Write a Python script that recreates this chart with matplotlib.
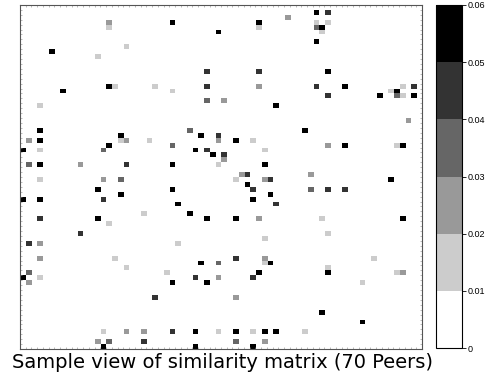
import numpy as np
import matplotlib
matplotlib.use("Agg")
import matplotlib.pyplot as plt
from matplotlib.colors import ListedColormap, BoundaryNorm

# ---- data: (column, row, similarity value) of non-zero cells in the 70x70 matrix ----
n_peers = 70
cell_cols = [15, 15, 26, 34, 18, 5, 13, 32, 15, 16, 23, 32, 7, 26, 32, 3,
             51, 53, 46, 41, 41, 51, 53, 51, 52, 52, 51, 41, 53, 41, 51, 56, 66, 68, 64, 65, 53, 62, 65, 66, 68, 35, 44, 67,
             3, 1, 3, 0, 3, 17, 17, 18, 22, 15, 14, 26, 29, 31, 34, 34, 30, 32, 33, 1, 3, 10, 18, 26, 34, 3, 14, 17, 13, 26, 17, 0, 3, 14, 27, 21, 29, 3, 13, 32, 15,
             49, 37, 40, 53, 56, 65, 66, 42, 35, 35, 42, 38, 39, 50, 37, 42, 43, 64, 39, 40, 50, 53, 56, 40, 43, 44, 37, 41, 52, 66,
             10, 1, 3, 27, 3, 16, 18, 31, 34, 1, 0, 3, 1, 25, 26, 30, 32, 34, 23, 14, 18, 21, 26, 30, 34, 13, 15, 21, 14, 30,
             53, 42, 37, 42, 61, 42, 43, 53, 41, 53, 65, 66, 40, 59, 37, 52, 59, 37, 40, 42, 44, 49, 37, 42, 40]
cell_rows = [3, 4, 3, 5, 8, 9, 10, 13, 16, 16, 16, 16, 17, 17, 19, 20,
             1, 1, 2, 3, 4, 3, 3, 4, 4, 5, 7, 13, 13, 16, 16, 16, 16, 16, 17, 17, 18, 18, 18, 18, 18, 19, 20, 23,
             25, 27, 27, 29, 29, 26, 27, 27, 27, 28, 29, 28, 25, 26, 26, 27, 29, 29, 30, 32, 32, 32, 32, 32, 32, 35, 35, 35, 37, 37, 38, 39, 39, 39, 40, 42, 42, 43, 43, 43, 44,
             25, 27, 27, 28, 28, 28, 28, 29, 30, 31, 32, 34, 34, 34, 35, 35, 35, 35, 36, 37, 37, 37, 37, 39, 38, 40, 43, 43, 43, 43,
             46, 48, 48, 48, 51, 51, 53, 52, 52, 54, 55, 55, 56, 54, 56, 55, 56, 55, 59, 66, 66, 66, 66, 66, 66, 68, 68, 68, 69, 69,
             46, 47, 51, 51, 51, 52, 52, 53, 54, 54, 54, 54, 55, 56, 59, 62, 64, 66, 66, 66, 66, 66, 68, 68, 69]
cell_values = [0.025, 0.015, 0.055, 0.055, 0.015, 0.055, 0.015, 0.045, 0.055, 0.015, 0.015, 0.045, 0.055, 0.015, 0.035, 0.015,
               0.055, 0.045, 0.025, 0.055, 0.015, 0.015, 0.015, 0.035, 0.055, 0.015, 0.055, 0.045, 0.055, 0.025, 0.045, 0.055, 0.015, 0.045, 0.015, 0.055, 0.045, 0.055, 0.035, 0.015, 0.055, 0.025, 0.055, 0.025,
               0.055, 0.025, 0.055, 0.055, 0.015, 0.055, 0.015, 0.025, 0.015, 0.055, 0.035, 0.035, 0.035, 0.055, 0.045, 0.025, 0.055, 0.045, 0.055, 0.035, 0.055, 0.025, 0.045, 0.055, 0.015, 0.015, 0.025, 0.035, 0.055, 0.055, 0.055, 0.055, 0.055, 0.045, 0.055, 0.015, 0.055, 0.045, 0.055, 0.055, 0.015,
               0.055, 0.055, 0.015, 0.025, 0.055, 0.015, 0.055, 0.015, 0.045, 0.025, 0.055, 0.025, 0.045, 0.025, 0.015, 0.025, 0.045, 0.055, 0.055, 0.045, 0.035, 0.045, 0.045, 0.055, 0.055, 0.045, 0.055, 0.025, 0.015, 0.055,
               0.045, 0.045, 0.025, 0.015, 0.025, 0.015, 0.015, 0.055, 0.035, 0.035, 0.055, 0.015, 0.025, 0.015, 0.055, 0.045, 0.055, 0.025, 0.045, 0.015, 0.025, 0.025, 0.045, 0.055, 0.015, 0.025, 0.035, 0.045, 0.055, 0.055,
               0.015, 0.015, 0.045, 0.025, 0.015, 0.015, 0.055, 0.015, 0.055, 0.055, 0.015, 0.025, 0.045, 0.015, 0.025, 0.055, 0.055, 0.055, 0.015, 0.055, 0.055, 0.015, 0.035, 0.025, 0.055]
cbar_ticks = [0, 0.01, 0.02, 0.03, 0.04, 0.05, 0.06]
cbar_labels = ["0", "0.01", "0.02", "0.03", "0.04", "0.05", "0.06"]
title_text = "Sample view of similarity matrix (70 Peers)"

matrix = np.zeros((n_peers, n_peers))
for c, r, v in zip(cell_cols, cell_rows, cell_values):
    matrix[r, c] = v

plt.rcParams['font.family'] = ['Liberation Sans', 'DejaVu Sans']

fig = plt.figure(figsize=(4.86, 3.77), dpi=100)
ax = fig.add_axes([20/486, 1-349/377, 402/486, 344/377])
cax = fig.add_axes([436/486, 1-348/377, 26/486, 343/377])

grays = ['#ffffff', '#cccccc', '#999999', '#666666', '#333333', '#000000']
cmap = ListedColormap(grays)
norm = BoundaryNorm(cbar_ticks, cmap.N)

im = ax.imshow(matrix, cmap=cmap, norm=norm, aspect='auto', interpolation='nearest',
               extent=(0, n_peers, n_peers, 0))
ax.set_xlim(0, n_peers)
ax.set_ylim(n_peers, 0)
ax.set_xticks(np.arange(0, n_peers + 1, 1))
ax.set_yticks(np.arange(0, n_peers + 1, 1))
ax.tick_params(direction='in', length=1.5, width=0.4, color='#888888',
               labelbottom=False, labelleft=False, top=True, right=True)
for s in ax.spines.values():
    s.set_color('#555555')
    s.set_linewidth(0.8)

cb = fig.colorbar(im, cax=cax, ticks=cbar_ticks)
cb.ax.set_yticklabels(cbar_labels)
cb.ax.tick_params(labelsize=6.5, length=3, width=0.6, pad=1)
cb.outline.set_linewidth(0.8)

fig.text(222/486, 1-363/377, title_text, ha='center', va='center', fontsize=14,
         family=['DejaVu Sans'])

fig.savefig('out.png', dpi=100)
